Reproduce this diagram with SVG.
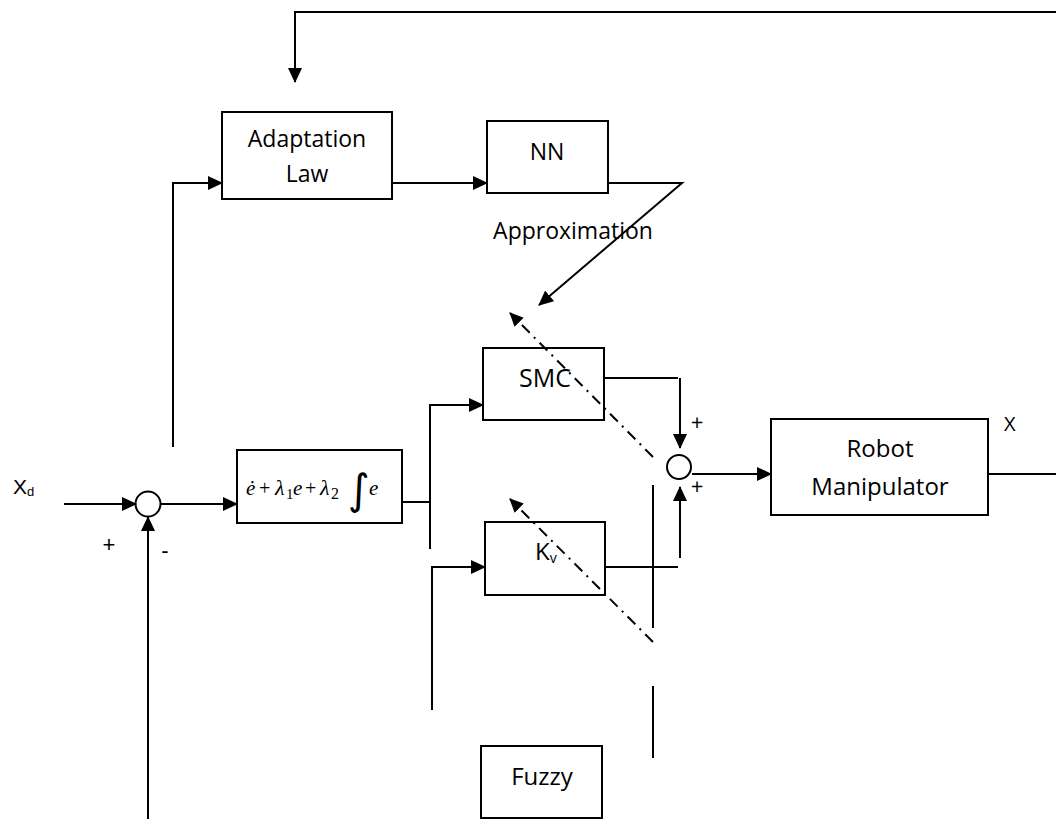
<svg xmlns="http://www.w3.org/2000/svg" width="1056" height="819" viewBox="0 0 1056 819">
<defs>
<marker id="ah" markerUnits="userSpaceOnUse" markerWidth="15" markerHeight="14" refX="14" refY="7" orient="auto">
<path d="M0,0 L15,7 L0,14 z" fill="#000"/>
</marker>
<marker id="ah2" markerUnits="userSpaceOnUse" markerWidth="14" markerHeight="13" refX="13" refY="6.5" orient="auto">
<path d="M0,0 L14,6.5 L0,13 z" fill="#000"/>
</marker>
</defs>
<style>
.box{fill:#fff;stroke:#000;stroke-width:2}
.ln{fill:none;stroke:#000;stroke-width:2}
.arr{marker-end:url(#ah)}
.dd{fill:none;stroke:#000;stroke-width:2;stroke-dasharray:11 6 2 6;marker-end:url(#ah2)}
.lbl{font-family:"Open Sans",sans-serif;fill:#000;text-anchor:middle}
.sg{font-family:"Liberation Sans",Arial,sans-serif;fill:#000}
.op{font-family:"Open Sans",sans-serif;fill:#000}
.m{font-family:"Liberation Serif","Times New Roman",serif;font-style:italic;fill:#000}
.mr{font-family:"Liberation Serif","Times New Roman",serif;fill:#000}
.int{font-family:"DejaVu Sans",sans-serif;fill:#000}
</style>
<rect width="1056" height="819" fill="#fff"/>

<g id="sum1">
<circle cx="148" cy="504" r="12.5" class="box"/>
<text class="sg" x="109" y="552" style="font-size:22px" text-anchor="middle">+</text>
<text class="sg" x="165" y="558" style="font-size:22px" text-anchor="middle">-</text>
</g>

<g id="xd">
<text class="sg" x="13" y="494" style="font-size:21px">X<tspan style="font-size:13px" dy="2">d</tspan></text>
</g>

<g id="adaptation">
<rect x="222" y="112" width="170" height="87" class="box"/>
<text class="lbl" x="307" y="147" style="font-size:23px">Adaptation</text>
<text class="lbl" x="307" y="182" style="font-size:23px">Law</text>
</g>

<g id="nn">
<rect x="487" y="121" width="121" height="72" class="box"/>
<text class="lbl" x="547" y="160" style="font-size:23px">NN</text>
</g>

<g id="approx">
<text class="lbl" x="573" y="239" style="font-size:23px">Approximation</text>
</g>

<g id="sliding">
<rect x="237" y="450" width="165" height="73" class="box"/>
<text class="m" x="246" y="495" style="font-size:21px">ė</text>
<text class="mr" x="259" y="495" style="font-size:20px">+</text>
<text class="m" x="275" y="495" style="font-size:22px">λ</text>
<text class="mr" x="286" y="499" style="font-size:15px">1</text>
<text class="m" x="293" y="495" style="font-size:21px">e</text>
<text class="mr" x="305" y="495" style="font-size:20px">+</text>
<text class="m" x="320" y="495" style="font-size:22px">λ</text>
<text class="mr" x="331" y="499" style="font-size:16px">2</text>
<text class="int" x="348" y="504" style="font-size:42px">∫</text>
<text class="m" x="369" y="495" style="font-size:21px">e</text>
</g>

<g id="smc">
<rect x="483" y="348" width="121" height="72" class="box"/>
<text class="lbl" x="545" y="387" style="font-size:25px">SMC</text>
</g>

<g id="kv">
<rect x="485" y="522" width="120" height="73" class="box"/>
<text class="op" x="535" y="560" style="font-size:24px">K<tspan style="font-size:14px" dy="3">v</tspan></text>
</g>

<g id="sum2">
<circle cx="679" cy="467" r="12" class="box"/>
<text class="op" x="697" y="430" style="font-size:22px" text-anchor="middle">+</text>
<text class="op" x="697" y="494" style="font-size:22px" text-anchor="middle">+</text>
</g>

<g id="robot">
<rect x="771" y="419" width="217" height="96" class="box"/>
<text class="lbl" x="880" y="457" style="font-size:24px">Robot</text>
<text class="lbl" x="880" y="495" style="font-size:24px">Manipulator</text>
<text class="op" x="1004" y="431" style="font-size:20px">X</text>
</g>

<g id="fuzzy">
<rect x="481" y="746" width="121" height="72" class="box"/>
<text class="lbl" x="542" y="785" style="font-size:24px">Fuzzy</text>
</g>

<g id="connectors">
<path class="ln arr" d="M1056,12 H295 V82"/>
<path class="ln arr" d="M173,447 V183 H222"/>
<path class="ln arr" d="M392,183 H487"/>
<path class="ln arr" d="M608,183 H682 L539,305"/>
<path class="ln arr" d="M64,504 H136"/>
<path class="ln arr" d="M148,819 V517"/>
<path class="ln arr" d="M161,504 H237"/>
<path class="ln" d="M402,502 H430"/>
<path class="ln arr" d="M430,549 V405 H483"/>
<path class="ln arr" d="M432,710 V567 H485"/>
<path class="ln" d="M604,378 H678"/>
<path class="ln arr" d="M680,378 V448"/>
<path class="ln" d="M605,567 H678"/>
<path class="ln arr" d="M680,558 V487"/>
<path class="ln arr" d="M692,474 H771"/>
<path class="ln" d="M988,474 H1056"/>
<path class="ln" d="M653,485 V628 M653,686 V758"/>
<path class="dd" d="M653,457 L510,313"/>
<path class="dd" d="M653,642 L510,499"/>
</g>
</svg>
